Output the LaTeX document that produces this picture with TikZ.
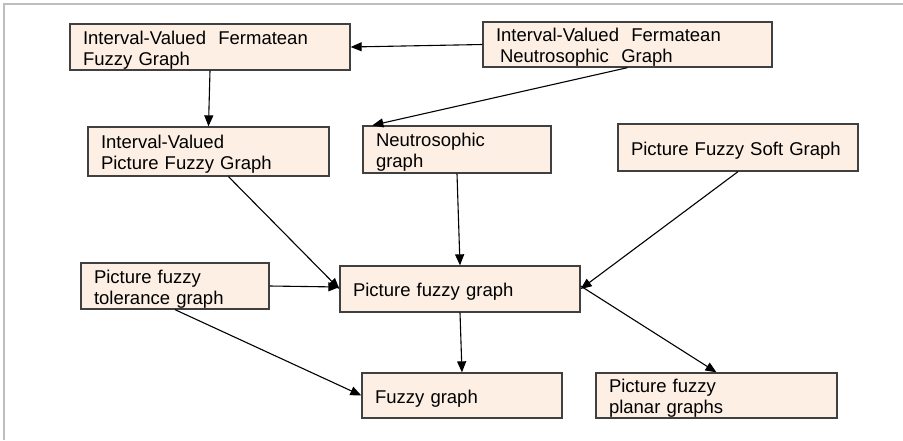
\documentclass[tikz,border=0pt]{standalone}
\usepackage{fontspec}
\setmainfont{Liberation Sans}
\usetikzlibrary{arrows.meta}
\definecolor{boxfill}{RGB}{253,239,228}
\definecolor{boxline}{RGB}{64,64,64}
\definecolor{framegray}{RGB}{190,190,190}

\begin{document}
\begin{tikzpicture}[x=1pt,y=-1pt,
  gbox/.style={draw=boxline, fill=boxfill, line width=1.3pt, inner xsep=13pt, inner ysep=0pt,
    align=left, text width=#1, minimum height=46pt, font=\fontsize{18.5}{21}\selectfont,
    execute at begin node={\rule{0pt}{19pt}}},
  link/.style={line width=1.1pt, -{Triangle[length=11pt,width=9pt]}}]
\useasboundingbox (0,0) rectangle (903,440);
\draw[framegray, line width=1.5pt] (4,440) -- (4,4) -- (903,4);

% top row
\node[gbox=254pt] (ivffg) at (210,47) {Interval-Valued \ Fermatean\\Fuzzy Graph};
\node[gbox=263pt, minimum height=45pt] (ivfng) at (627.5,44.5) {Interval-Valued \ Fermatean\\\hspace{4pt}Neutrosophic \ Graph};

% second row
\node[gbox=215pt, minimum height=49pt] (ivpfg) at (208.5,151.5) {Interval-Valued\\Picture Fuzzy Graph};
\node[gbox=162pt, minimum height=47pt] (neutro) at (457,149.5) {Neutrosophic\\graph};
\node[gbox=214pt, minimum height=47pt] (pfsg) at (738,147.5) {Picture Fuzzy Soft Graph};

% middle
\node[gbox=162pt] (pftg) at (175,286) {Picture fuzzy\\tolerance graph};
\node[gbox=214pt] (pfg) at (460,289) {Picture fuzzy graph};

% bottom row
\node[gbox=174pt, minimum height=45pt] (fg) at (462,395.5) {Fuzzy graph};
\node[gbox=215pt, minimum height=45pt] (pfpg) at (716.5,395.5) {Picture fuzzy\\planar graphs};

\draw[link] (ivfng.west) -- (ivffg.east);
\draw[link] (ivffg.south) -- (ivpfg.north);
\draw[link] (ivfng.south) -- ([xshift=10pt]neutro.north west);
\draw[link] ([xshift=20pt]ivpfg.south) -- (pfg.west);
\draw[link] (neutro.south) -- (pfg.north);
\draw[link] (pfsg.south) -- (pfg.east);
\draw[link] (pftg.east) -- ([yshift=2pt]pfg.west);
\draw[link] (pftg.south) -- (fg.west);
\draw[link] (pfg.south) -- (fg.north);
\draw[link] ([yshift=3pt]pfg.east) -- (pfpg.north);
\end{tikzpicture}
\end{document}
